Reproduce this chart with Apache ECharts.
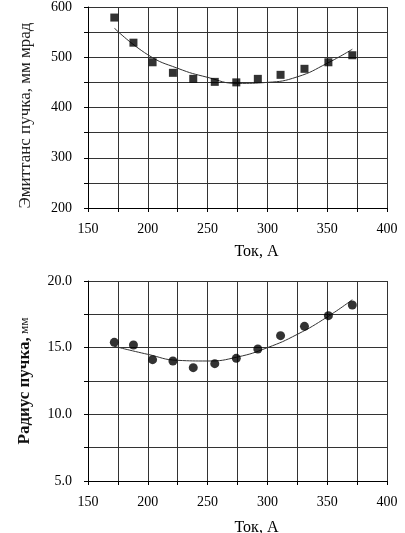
<!DOCTYPE html>
<html>
<head>
<meta charset="utf-8">
<script src="https://cdn.jsdelivr.net/npm/echarts@6/dist/echarts.min.js"></script>
<style>
  html, body { margin: 0; padding: 0; background: #fff; }
  #main { width: 405px; height: 533px; }
</style>
</head>
<body>
<div id="main"></div>
<script>
// ток, А (общий для обоих графиков)
var current = [172, 188, 204, 221, 238, 256, 274, 292, 311, 331, 351, 371];
var emittance = [579, 529, 490, 469, 457, 451, 450, 457, 465, 477, 490, 504];
var radius = [15.4, 15.2, 14.1, 14.0, 13.5, 13.8, 14.2, 14.9, 15.9, 16.6, 17.4, 18.2];

// линии тренда
var trendX = [172, 200, 225, 250, 275, 300, 325, 350, 371];
var emitTrend = [558, 505, 478, 460, 448, 450, 461, 488, 516];
var radTrend = [15.1, 14.5, 14.05, 14.0, 14.3, 15.0, 16.0, 17.3, 18.6];

var chart = echarts.init(document.getElementById('main'));

var font = 'Liberation Serif';
var gridColor = '#333';

function pairs(xs, ys) {
  return xs.map(function (x, i) { return [x, ys[i]]; });
}

function xAxisOf(gridIndex) {
  return {
    type: 'value',
    gridIndex: gridIndex,
    min: 150,
    max: 400,
    interval: 25,
    name: 'Ток, А',
    nameLocation: 'middle',
    nameGap: gridIndex === 0 ? 36 : 39,
    nameTextStyle: { fontFamily: font, fontSize: 16, color: '#000', padding: [0, 0, 0, 38] },
    axisLine: { show: true, lineStyle: { color: '#000', width: 1 } },
    axisTick: { show: true, inside: false, length: 4, lineStyle: { color: '#000' } },
    axisLabel: {
      fontFamily: font, fontSize: 14, color: '#000', margin: 14,
      formatter: function (v) { return v % 50 === 0 ? String(v) : ''; }
    },
    splitLine: { show: true, lineStyle: { color: gridColor, width: 1 } }
  };
}

var option = {
  backgroundColor: '#fff',
  animation: false,
  grid: [
    { left: 88, top: 7, width: 299, height: 201, outerBoundsMode: 'none' },
    { left: 88, top: 281, width: 299, height: 200, outerBoundsMode: 'none' }
  ],
  xAxis: [xAxisOf(0), xAxisOf(1)],
  yAxis: [{
    type: 'value',
    gridIndex: 0,
    min: 200,
    max: 600,
    interval: 50,
    name: 'Эмиттанс пучка, мм мрад',
    nameLocation: 'middle',
    nameGap: 54,
    nameTextStyle: { fontFamily: font, fontSize: 17, color: '#222', padding: [0, 16, 0, 0] },
    axisLine: { show: true, lineStyle: { color: '#000' } },
    axisTick: { show: true, length: 4, lineStyle: { color: '#000' } },
    axisLabel: {
      fontFamily: font, fontSize: 14, color: '#000', margin: 16,
      formatter: function (v) { return v % 100 === 0 ? String(v) : ''; }
    },
    splitLine: { show: true, lineStyle: { color: gridColor, width: 1 } }
  }, {
    type: 'value',
    gridIndex: 1,
    min: 5,
    max: 20,
    interval: 2.5,
    name: '{a|Радиус пучка,} {b|мм}',
    nameLocation: 'middle',
    nameGap: 55,
    nameTextStyle: {
      color: '#000',
      rich: {
        a: { fontFamily: font, fontSize: 17, fontWeight: 'bold', color: '#111' },
        b: { fontFamily: font, fontSize: 13, color: '#222' }
      }
    },
    axisLine: { show: true, lineStyle: { color: '#000' } },
    axisTick: { show: true, length: 4, lineStyle: { color: '#000' } },
    axisLabel: {
      fontFamily: font, fontSize: 14, color: '#000', margin: 16,
      formatter: function (v) { return v % 5 === 0 ? v.toFixed(1) : ''; }
    },
    splitLine: { show: true, lineStyle: { color: gridColor, width: 1 } }
  }],
  series: [{
    type: 'line',
    xAxisIndex: 0,
    yAxisIndex: 0,
    data: pairs(trendX, emitTrend),
    smooth: true,
    showSymbol: false,
    lineStyle: { color: '#333', width: 1 },
    z: 2
  }, {
    type: 'scatter',
    xAxisIndex: 0,
    yAxisIndex: 0,
    data: pairs(current, emittance),
    symbol: 'rect',
    symbolSize: 8,
    itemStyle: { color: '#000' },
    z: 3
  }, {
    type: 'line',
    xAxisIndex: 1,
    yAxisIndex: 1,
    data: pairs(trendX, radTrend),
    smooth: true,
    showSymbol: false,
    lineStyle: { color: '#333', width: 1 },
    z: 2
  }, {
    type: 'scatter',
    xAxisIndex: 1,
    yAxisIndex: 1,
    data: pairs(current, radius),
    symbol: 'circle',
    symbolSize: 9,
    itemStyle: { color: '#000' },
    z: 3
  }]
};

chart.setOption(option);
</script>
</body>
</html>
